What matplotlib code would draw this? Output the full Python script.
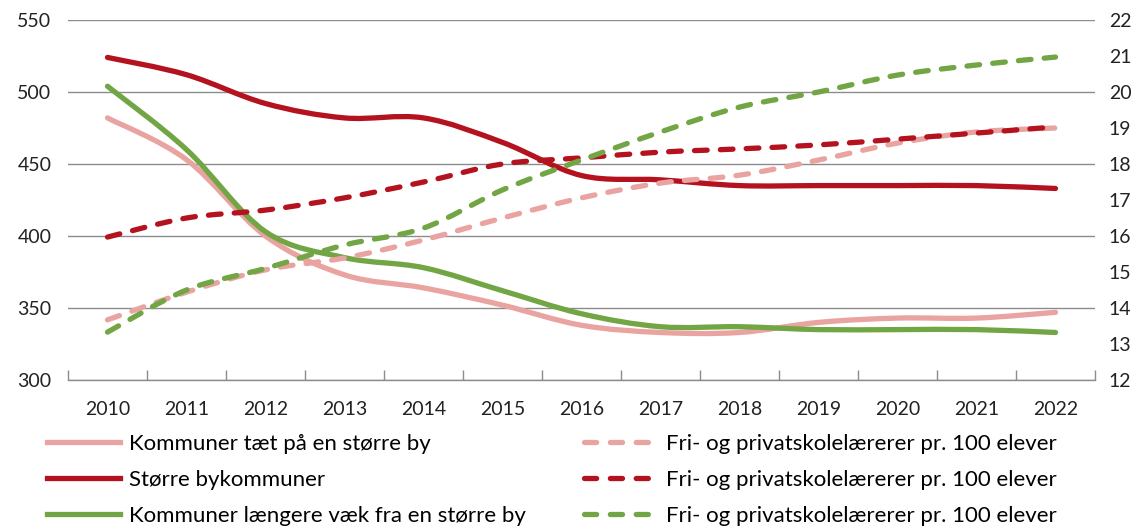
import matplotlib
matplotlib.use("Agg")
import matplotlib.pyplot as plt
from matplotlib.path import Path
from matplotlib.patches import PathPatch
from matplotlib.lines import Line2D

plt.rcParams['font.family'] = ['Lato', 'DejaVu Sans']

years = [str(y) for y in range(2010, 2023)]

# antal elever pr. lærer (venstre akse)
taet = [482, 453, 400, 373, 364, 352, 338, 333, 333, 340, 343, 343, 347]
storre = [524, 512, 492, 482, 482, 465, 442, 439, 435, 435, 435, 435, 433]
laengere = [504, 460, 403, 385, 378, 362, 346, 337, 337, 335, 335, 335, 333]

# fri- og privatskolelærere pr. 100 elever (højre akse)
fri_taet = [13.67, 14.44, 15.06, 15.39, 15.89, 16.5, 17.06, 17.47, 17.69, 18.11, 18.58, 18.89, 19.0]
fri_storre = [15.97, 16.5, 16.72, 17.06, 17.5, 18.0, 18.17, 18.33, 18.42, 18.53, 18.69, 18.86, 19.03]
fri_laengere = [13.33, 14.5, 15.1, 15.75, 16.22, 17.28, 18.11, 18.89, 19.58, 20.0, 20.47, 20.75, 20.97]

labels_left = ['Kommuner tæt på en større by', 'Større bykommuner',
               'Kommuner længere væk fra en større by']
label_right = 'Fri- og privatskolelærerer pr. 100 elever'

pink = '#E9A3A0'
red = '#B3121E'
green = '#72A544'
grid_c = '#8C8C8C'


def smooth_path(xs, ys):
    # Excel-lignende udglattet linje (Catmull-Rom som Bezier-kurver)
    n = len(xs)
    verts = [(xs[0], ys[0])]
    codes = [Path.MOVETO]
    for i in range(n - 1):
        i0 = max(i - 1, 0)
        i3 = min(i + 2, n - 1)
        c1 = (xs[i] + (xs[i + 1] - xs[i0]) / 6, ys[i] + (ys[i + 1] - ys[i0]) / 6)
        c2 = (xs[i + 1] - (xs[i3] - xs[i]) / 6, ys[i + 1] - (ys[i3] - ys[i]) / 6)
        verts += [c1, c2, (xs[i + 1], ys[i + 1])]
        codes += [Path.CURVE4] * 3
    return Path(verts, codes)


fig = plt.figure(figsize=(11.4, 5.3), dpi=100)
ax = fig.add_axes([68 / 1140, 1 - 380 / 530, (1095 - 68) / 1140, 360 / 530])
ax2 = ax.twinx()

x = list(range(len(years)))
lw = 3.8
dash = (2.4, 2.5)
h_left, h_right = [], []
for vals, c, lab in zip([taet, storre, laengere], [pink, red, green], labels_left):
    p = PathPatch(smooth_path(x, vals), fill=False, edgecolor=c, lw=lw,
                  capstyle='round', joinstyle='round')
    ax.add_patch(p)
    h_left.append(Line2D([], [], color=c, lw=lw, label=lab))
for vals, c in zip([fri_taet, fri_storre, fri_laengere], [pink, red, green]):
    p = PathPatch(smooth_path(x, vals), fill=False, edgecolor=c, lw=lw,
                  linestyle=(0, dash), capstyle='round', joinstyle='round')
    ax2.add_patch(p)
    h_right.append(Line2D([], [], color=c, lw=lw, dashes=(2.3, 2.6),
                          dash_capstyle='round', label=label_right))

ax.set_xlim(-0.5, len(years) - 0.5)
ax.set_ylim(300, 550)
ax.set_yticks(range(300, 551, 50))
ax2.set_ylim(12, 22)
ax2.set_yticks(range(12, 23))

ax.set_xticks(x)
ax.set_xticklabels(years)
ax.set_xticks([i - 0.5 for i in range(len(years) + 1)], minor=True)
ax.tick_params(axis='x', which='major', length=0, pad=15, labelsize=14)
ax.tick_params(axis='x', which='minor', direction='in', length=7, color=grid_c, width=1)
ax.tick_params(axis='y', length=0, pad=12, labelsize=14)
ax2.tick_params(axis='y', length=0, pad=10, labelsize=14)

ax.yaxis.grid(True, color=grid_c, lw=1)
ax.set_axisbelow(True)
for a in (ax, ax2):
    for s in ['top', 'left', 'right', 'bottom']:
        a.spines[s].set_visible(False)
ax.spines['bottom'].set_visible(True)
ax.spines['bottom'].set_color(grid_c)
ax.spines['bottom'].set_linewidth(1)

for t in ax.get_xticklabels() + ax.get_yticklabels() + ax2.get_yticklabels():
    t.set_color('#222222')

fig.legend(handles=h_left + h_right, loc='upper left',
           bbox_to_anchor=(47 / 1140, 1 - 434 / 530),
           ncol=2, frameon=False, fontsize=16, handlelength=3.3,
           handletextpad=0.4, columnspacing=2.6, labelspacing=0.72,
           borderaxespad=0, borderpad=0)

fig.savefig('out.png', dpi=100)
